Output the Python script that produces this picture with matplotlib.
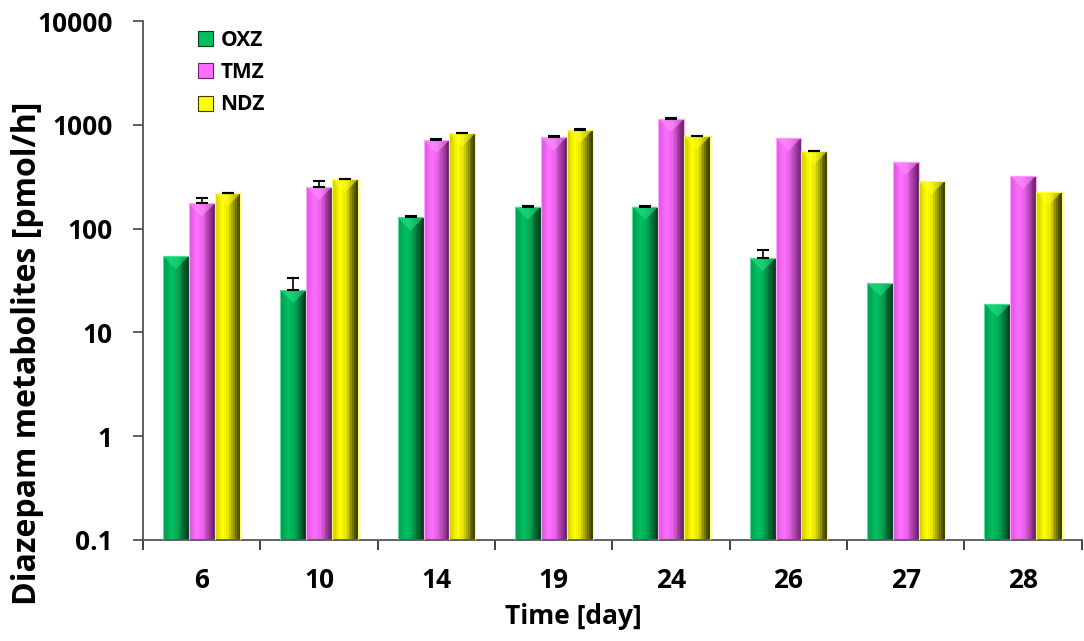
import numpy as np
import matplotlib
matplotlib.use("Agg")
import matplotlib.pyplot as plt
from matplotlib.patches import Patch, Polygon
from matplotlib.colors import to_rgb

plt.rcParams['font.family'] = ['Open Sans', 'DejaVu Sans']
plt.rcParams['font.weight'] = 'bold'

# data
days = ["6", "10", "14", "19", "24", "26", "27", "28"]
oxz = [54.5, 25.5, 128, 163, 163, 52, 29.7, 18.8]
tmz = [175, 253, 713, 759, 1146, 752, 441, 323]
ndz = [219, 298, 828, 891, 775, 556, 286, 227]
oxz_err = [0, 8, 4, 3, 3, 10.5, 0, 0]
tmz_err = [24, 36, 17, 15, 15, 0, 0, 0]
ndz_err = [3, 4, 10, 12, 10, 8, 0, 0]

series = [
    ("OXZ", oxz, oxz_err, "#00c060", "#003a1c"),
    ("TMZ", tmz, tmz_err, "#ff6eff", "#6e1f6e"),
    ("NDZ", ndz, ndz_err, "#ffff00", "#3c3c00"),
]

fig = plt.figure(figsize=(10.84, 6.41), dpi=100)
ax = fig.add_axes([0.132, 0.158, 0.866, 0.809])

x = np.arange(len(days))
w = 0.22
nstrip = 14
# brightness across a bar: medium at the left edge, bright around one
# third, dark at the right edge (cylinder look)
t = np.linspace(0, 1, nstrip)
prof = np.interp(t, [0, 0.3, 0.55, 1.0], [0.75, 1.0, 0.85, 0.0])

for i, (name, vals, errs, light, dark) in enumerate(series):
    xs = x + (i - 1) * w
    lc = np.array(to_rgb(light))
    dc = np.array(to_rgb(dark))
    sw = w / nstrip
    for k in range(nstrip):
        col = dc + (lc - dc) * prof[k]
        ax.bar(xs - w / 2 + (k + 0.5) * sw, vals, width=sw * 1.02,
               bottom=0.1, color=col, linewidth=0, zorder=2)
    # outline
    ax.bar(xs, vals, width=w, bottom=0.1, fill=False,
           edgecolor=tuple(lc * 0.6 + 0.4), linewidth=0.8, zorder=3)
    # bevel highlight at the top of each bar
    for xi, v in zip(xs, vals):
        tri = Polygon([[xi - w / 2, v], [xi + w / 2, v], [xi, v / 1.34]],
                      closed=True, facecolor=tuple(np.clip(lc + 0.15, 0, 1)),
                      edgecolor='none', alpha=0.55, zorder=3)
        ax.add_patch(tri)
    # error bars (upper side only)
    for xi, v, e in zip(xs, vals, errs):
        if e > 0:
            ax.errorbar(xi, v, yerr=[[0], [e]], fmt='none', ecolor='black',
                        elinewidth=1.2, capsize=4.5, capthick=1.5, zorder=4)

ax.set_yscale('log')
ax.set_ylim(0.1, 10000)
ax.set_xlim(-0.5, len(days) - 0.5)
ax.set_yticks([0.1, 1, 10, 100, 1000, 10000])
ax.set_yticklabels(["0.1", "1", "10", "100", "1000", "10000"])
ax.yaxis.set_minor_locator(matplotlib.ticker.NullLocator())
ax.set_xticks(x)
ax.set_xticklabels(days)
ax.set_xticks(np.arange(len(days) + 1) - 0.5, minor=True)
ax.tick_params(axis='x', which='major', length=0, pad=20, labelsize=19)
ax.tick_params(axis='x', which='minor', length=7, width=1.2, color='#222222')
ax.tick_params(axis='y', which='major', length=7, width=1.2, color='#444444',
               labelsize=19, pad=15)

for s in ['top', 'right']:
    ax.spines[s].set_visible(False)
for s in ['left', 'bottom']:
    ax.spines[s].set_color('#555555')
    ax.spines[s].set_linewidth(1.3)

ax.set_ylabel("Diazepam metabolites [pmol/h]", fontsize=23, fontweight='bold')
ax.yaxis.set_label_coords(-0.106, 0.36)
ax.set_xlabel("Time [day]", fontsize=19, fontweight='bold')
ax.xaxis.set_label_coords(0.458, -0.122)

handles = [Patch(facecolor=s[3], edgecolor=s[4], linewidth=0.8) for s in series]
ax.legend(handles, [s[0] for s in series], loc='upper left',
          bbox_to_anchor=(0.038, 1.02), frameon=False,
          handlelength=0.75, handleheight=0.75, handletextpad=0.35,
          labelspacing=0.55, prop={'weight': 'bold', 'size': 15})

fig.savefig("out.png", dpi=100)
